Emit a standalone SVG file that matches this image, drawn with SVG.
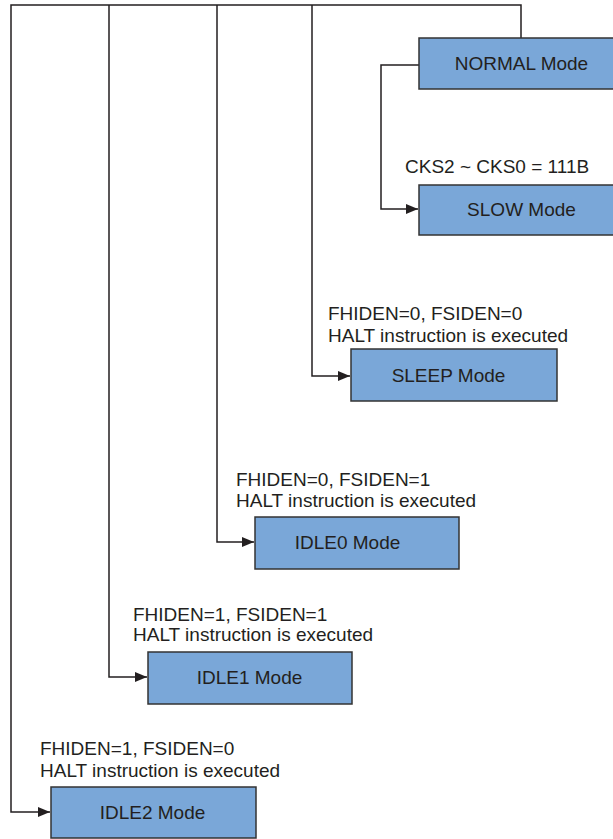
<svg xmlns="http://www.w3.org/2000/svg" width="613" height="839" viewBox="0 0 613 839">
<style>
.box{fill:#7aa7d8;stroke:#333;stroke-width:1.5}
.lbl{font-family:"Liberation Sans",Arial,sans-serif;font-size:19px;fill:#231f20}
.mode{font-family:"Liberation Sans",Arial,sans-serif;font-size:19px;fill:#231f20;text-anchor:middle}
.wire{fill:none;stroke:#231f20;stroke-width:1.5}
</style>
<defs>
<marker id="arr" markerWidth="12" markerHeight="10" refX="12" refY="5" orient="auto" markerUnits="userSpaceOnUse">
<path d="M0,0 L12,5 L0,10 z" fill="#231f20"/>
</marker>
</defs>
<rect width="613" height="839" fill="#fff"/>
<g id="connectors">
<path class="wire" d="M521,38 V5 H11 V812 H50" marker-end="url(#arr)"/>
<path class="wire" d="M109,5 V677 H147" marker-end="url(#arr)"/>
<path class="wire" d="M217,5 V542 H254" marker-end="url(#arr)"/>
<path class="wire" d="M312,5 V376 H350" marker-end="url(#arr)"/>
<path class="wire" d="M419,65 H381 V209 H418" marker-end="url(#arr)"/>
</g>
<g id="normal">
<rect class="box" x="419" y="38" width="206" height="51"/>
<text class="mode" x="521.5" y="70">NORMAL Mode</text>
</g>
<g id="slow">
<text class="lbl" x="405" y="173">CKS2 ~ CKS0 = 111B</text>
<rect class="box" x="419" y="185" width="206" height="50"/>
<text class="mode" x="521.5" y="216">SLOW Mode</text>
</g>
<g id="sleep">
<text class="lbl" x="328" y="320">FHIDEN=0, FSIDEN=0</text>
<text class="lbl" x="328" y="342">HALT instruction is executed</text>
<rect class="box" x="351" y="349" width="206" height="52"/>
<text class="mode" x="448.5" y="382">SLEEP Mode</text>
</g>
<g id="idle0">
<text class="lbl" x="236" y="486">FHIDEN=0, FSIDEN=1</text>
<text class="lbl" x="236" y="507">HALT instruction is executed</text>
<rect class="box" x="255" y="517" width="204" height="52"/>
<text class="mode" x="347.5" y="549">IDLE0 Mode</text>
</g>
<g id="idle1">
<text class="lbl" x="133" y="621">FHIDEN=1, FSIDEN=1</text>
<text class="lbl" x="133" y="641">HALT instruction is executed</text>
<rect class="box" x="148" y="652" width="204" height="52"/>
<text class="mode" x="249.5" y="684">IDLE1 Mode</text>
</g>
<g id="idle2">
<text class="lbl" x="40" y="755">FHIDEN=1, FSIDEN=0</text>
<text class="lbl" x="40" y="777">HALT instruction is executed</text>
<rect class="box" x="51" y="787" width="205" height="51"/>
<text class="mode" x="152.5" y="819">IDLE2 Mode</text>
</g>
</svg>
